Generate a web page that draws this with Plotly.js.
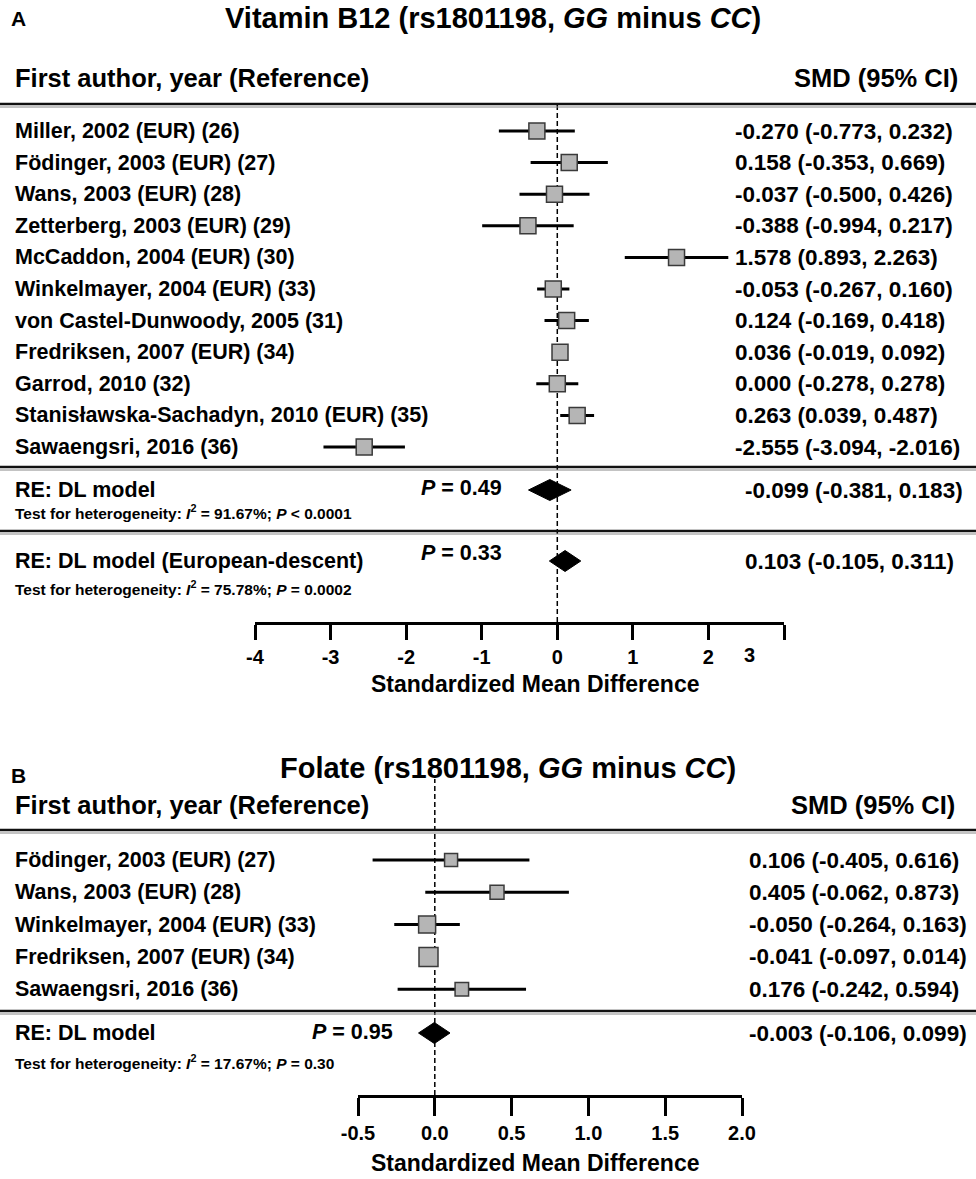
<!DOCTYPE html>
<html>
<head>
<meta charset="utf-8">
<script src="https://cdn.plot.ly/plotly-3.0.1.min.js"></script>
<style>html,body{margin:0;padding:0;background:#fff;}#chart{width:976px;height:1179px;}</style>
</head>
<body>
<div id="chart"></div>
<script>
// ---------- Panel A data: Vitamin B12 ----------
const studiesA = [
  "Miller, 2002 (EUR) (26)",
  "Födinger, 2003 (EUR) (27)",
  "Wans, 2003 (EUR) (28)",
  "Zetterberg, 2003 (EUR) (29)",
  "McCaddon, 2004 (EUR) (30)",
  "Winkelmayer, 2004 (EUR) (33)",
  "von Castel-Dunwoody, 2005 (31)",
  "Fredriksen, 2007 (EUR) (34)",
  "Garrod, 2010 (32)",
  "Stanisławska-Sachadyn, 2010 (EUR) (35)",
  "Sawaengsri, 2016 (36)"
];
const smdA = [-0.270, 0.158, -0.037, -0.388, 1.578, -0.053, 0.124, 0.036, 0.000, 0.263, -2.555];
const lowA = [-0.773, -0.353, -0.500, -0.994, 0.893, -0.267, -0.169, -0.019, -0.278, 0.039, -3.094];
const highA = [0.232, 0.669, 0.426, 0.217, 2.263, 0.160, 0.418, 0.092, 0.278, 0.487, -2.016];
const summaryLabelsA = ["RE: DL model", "RE: DL model (European-descent)"];
const summarySmdA = [-0.099, 0.103];
const summaryLowA = [-0.381, -0.105];
const summaryHighA = [0.183, 0.311];
const summaryPA = ["0.49", "0.33"];
const hetI2A = ["91.67%", "75.78%"];
const hetPA = ["&lt; 0.0001", "= 0.0002"];
const tickValsA = [-4, -3, -2, -1, 0, 1, 2, 3];
const tickTextA = ["-4", "-3", "-2", "-1", "0", "1", "2", ""];

// ---------- Panel B data: Folate ----------
const studiesB = [
  "Födinger, 2003 (EUR) (27)",
  "Wans, 2003 (EUR) (28)",
  "Winkelmayer, 2004 (EUR) (33)",
  "Fredriksen, 2007 (EUR) (34)",
  "Sawaengsri, 2016 (36)"
];
const smdB = [0.106, 0.405, -0.050, -0.041, 0.176];
const lowB = [-0.405, -0.062, -0.264, -0.097, -0.242];
const highB = [0.616, 0.873, 0.163, 0.014, 0.594];
const summaryLabelsB = ["RE: DL model"];
const summarySmdB = [-0.003];
const summaryLowB = [-0.106];
const summaryHighB = [0.099];
const summaryPB = ["0.95"];
const hetI2B = ["17.67%"];
const hetPB = ["= 0.30"];
const tickValsB = [-0.5, 0.0, 0.5, 1.0, 1.5, 2.0];
const tickTextB = ["-0.5", "0.0", "0.5", "1.0", "1.5", "2.0"];

// ---------- layout helpers ----------
const W = 976, H = 1179;
const FONT = "Liberation Sans, Arial, Helvetica, sans-serif";
const px = v => v / W;
const py = v => 1 - v / H;
const fmt = v => v.toFixed(3);

const SZ = {row: 21.5, value: 22.5, header: 25.5, title: 29, het: 15.5, tick: 20, axisTitle: 23, letter: 21};

// Panel geometry (pixels)
const A = {top: 104, bottom: 622, left: 255, right: 784, row0: 131, step: 31.6};
const B = {top: 779, bottom: 1095, left: 358, right: 742, row0: 860, step: 32.3};
const rowOf = (P, pix) => (pix - P.row0) / P.step;

function ciTrace(est, lo, hi, rows, xa, ya) {
  const x = [], y = [];
  est.forEach((e, i) => { x.push(lo[i], hi[i], null); y.push(rows[i], rows[i], null); });
  return {type: "scatter", mode: "lines", x, y, xaxis: xa, yaxis: ya,
    line: {color: "#000", width: 3}, hoverinfo: "skip"};
}
function boxTrace(est, rows, sizes, xa, ya) {
  return {type: "scatter", mode: "markers", x: est, y: rows, xaxis: xa, yaxis: ya,
    marker: {symbol: "square", size: sizes, opacity: 1, color: "#b5b5b5", line: {color: "#3a3a3a", width: 1.5}},
    hoverinfo: "skip"};
}
function diamondTrace(est, lo, hi, row, half, xa, ya) {
  return {type: "scatter", mode: "lines", fill: "toself", fillcolor: "#000",
    x: [lo, est, hi, est, lo], y: [row, row - half, row, row + half, row],
    xaxis: xa, yaxis: ya, line: {color: "#000", width: 1}, hoverinfo: "skip"};
}

const rowsA = studiesA.map((_, i) => i);
const rowsB = studiesB.map((_, i) => i);
const sumRowsA = [rowOf(A, 490), rowOf(A, 561)];
const sumRowsB = [rowOf(B, 1033)];

const traces = [
  ciTrace(smdA, lowA, highA, rowsA, "x", "y"),
  boxTrace(smdA, rowsA, 16, "x", "y"),
  ciTrace(smdB, lowB, highB, rowsB, "x2", "y2"),
  boxTrace(smdB, rowsB, [13, 14, 17, 19, 13.5], "x2", "y2")
];
summarySmdA.forEach((e, i) => traces.push(diamondTrace(e, summaryLowA[i], summaryHighA[i], sumRowsA[i], 10.5 / A.step, "x", "y")));
summarySmdB.forEach((e, i) => traces.push(diamondTrace(e, summaryLowB[i], summaryHighB[i], sumRowsB[i], 10.5 / B.step, "x2", "y2")));

const annotations = [];
function ann(text, x, y, size, xanchor, xref, yref) {
  annotations.push({text: "<b>" + text + "</b>", x, y, xref: xref || "paper", yref: yref || "paper",
    showarrow: false, xanchor: xanchor || "left", yanchor: "middle",
    font: {family: FONT, size, color: "#000"}});
}

// Panel A text
ann("A", px(9), py(19), SZ.letter);
ann("Vitamin B12 (rs1801198, <i>GG</i> minus <i>CC</i>)", px(493), py(18), SZ.title, "center");
ann("First author, year (Reference)", px(13), py(78), SZ.header);
ann("SMD (95% CI)", px(960), py(78), SZ.header, "right");
studiesA.forEach((s, i) => {
  ann(s, px(13), rowsA[i], SZ.row, "left", "paper", "y");
  ann(fmt(smdA[i]) + " (" + fmt(lowA[i]) + ", " + fmt(highA[i]) + ")", px(733), rowsA[i], SZ.value, "left", "paper", "y");
});
const pRowA = [rowOf(A, 488), rowOf(A, 553)];
const hetRowA = [rowOf(A, 512), rowOf(A, 588)];
summaryLabelsA.forEach((s, i) => {
  ann(s, px(13), sumRowsA[i], SZ.row, "left", "paper", "y");
  ann("<i>P</i> = " + summaryPA[i], px(504), pRowA[i], SZ.row, "right", "paper", "y");
  ann("Test for heterogeneity: <i>I</i><sup>2</sup> = " + hetI2A[i] + "; <i>P</i> " + hetPA[i], px(13), hetRowA[i], SZ.het, "left", "paper", "y");
  ann(fmt(summarySmdA[i]) + " (" + fmt(summaryLowA[i]) + ", " + fmt(summaryHighA[i]) + ")", px(743), sumRowsA[i], SZ.value, "left", "paper", "y");
});
ann("3", 2.55, py(655), SZ.tick, "center", "x", "paper");
ann("Standardized Mean Difference", px(535), py(684), SZ.axisTitle, "center");

// Panel B text
ann("B", px(9), py(775), SZ.letter);
ann("Folate (rs1801198, <i>GG</i> minus <i>CC</i>)", px(508), py(768), SZ.title, "center");
ann("First author, year (Reference)", px(13), py(805), SZ.header);
ann("SMD (95% CI)", px(957), py(805), SZ.header, "right");
studiesB.forEach((s, i) => {
  ann(s, px(13), rowsB[i], SZ.row, "left", "paper", "y2");
  ann(fmt(smdB[i]) + " (" + fmt(lowB[i]) + ", " + fmt(highB[i]) + ")", px(747), rowsB[i], SZ.value, "left", "paper", "y2");
});
const pRowB = [rowOf(B, 1032)];
const hetRowB = [rowOf(B, 1062)];
summaryLabelsB.forEach((s, i) => {
  ann(s, px(13), sumRowsB[i], SZ.row, "left", "paper", "y2");
  ann("<i>P</i> = " + summaryPB[i], px(395), pRowB[i], SZ.row, "right", "paper", "y2");
  ann("Test for heterogeneity: <i>I</i><sup>2</sup> = " + hetI2B[i] + "; <i>P</i> " + hetPB[i], px(13), hetRowB[i], SZ.het, "left", "paper", "y2");
  ann(fmt(summarySmdB[i]) + " (" + fmt(summaryLowB[i]) + ", " + fmt(summaryHighB[i]) + ")", px(747), sumRowsB[i], SZ.value, "left", "paper", "y2");
});
ann("Standardized Mean Difference", px(535), py(1163), SZ.axisTitle, "center");

// separator lines (double rule)
const shapes = [];
function rule(yPix) {
  shapes.push({type: "line", xref: "paper", yref: "paper", x0: 0, x1: 1, y0: py(yPix), y1: py(yPix), line: {color: "#111", width: 2.5}});
  shapes.push({type: "line", xref: "paper", yref: "paper", x0: 0, x1: 1, y0: py(yPix + 3), y1: py(yPix + 3), line: {color: "#888", width: 1}});
}
[104, 467, 531, 830, 1011].forEach(rule);
shapes.push({type: "line", xref: "x", yref: "y domain", x0: 0, x1: 0, y0: 0, y1: 1, layer: "below", line: {color: "#000", width: 1.5, dash: "5px,3px"}});
shapes.push({type: "line", xref: "x2", yref: "y2 domain", x0: 0, x1: 0, y0: 0, y1: 1, layer: "below", line: {color: "#000", width: 1.5, dash: "5px,3px"}});

function xaxisCfg(P, range, tv, tt, anchor, tlen) {
  return {domain: [px(P.left), px(P.right)], range, anchor, autorange: false, fixedrange: true,
    showgrid: false, zeroline: false, showline: true, linecolor: "#000", linewidth: 3,
    ticks: "outside", ticklen: tlen, tickwidth: 3, tickcolor: "#000",
    tickmode: "array", tickvals: tv, ticktext: tt.map(t => t ? "<b>" + t + "</b>" : ""),
    tickfont: {family: FONT, size: SZ.tick, color: "#000"}};
}
function yaxisCfg(P, anchor) {
  return {domain: [py(P.bottom), py(P.top)], range: [rowOf(P, P.bottom), rowOf(P, P.top)], anchor,
    autorange: false, fixedrange: true, visible: false, showgrid: false, zeroline: false};
}

const layout = {
  width: W, height: H, margin: {l: 0, r: 0, t: 0, b: 0},
  paper_bgcolor: "#fff", plot_bgcolor: "rgba(0,0,0,0)", showlegend: false,
  font: {family: FONT, color: "#000"},
  xaxis: xaxisCfg(A, [-4, 3], tickValsA, tickTextA, "y", 15),
  yaxis: yaxisCfg(A, "x"),
  xaxis2: xaxisCfg(B, [-0.5, 2.0], tickValsB, tickTextB, "y2", 18),
  yaxis2: yaxisCfg(B, "x2"),
  annotations, shapes
};

Plotly.newPlot("chart", traces, layout, {staticPlot: true, displayModeBar: false});
</script>
</body>
</html>
